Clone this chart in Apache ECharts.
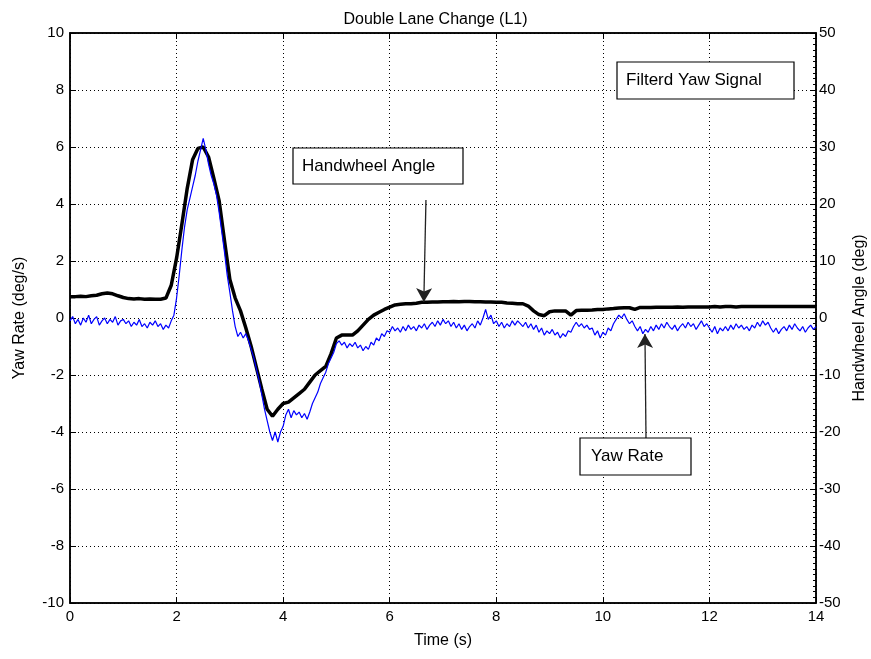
<!DOCTYPE html>
<html>
<head>
<meta charset="utf-8">
<script src="https://cdn.jsdelivr.net/npm/echarts@6/dist/echarts.min.js"></script>
<style>html,body{margin:0;padding:0;background:#fff;overflow:hidden}#c{width:871px;height:659px}</style>
</head>
<body>
<div id="c"></div>
<script>
// ---- Data ----
const chartTitle = 'Double Lane Change (L1)';
const xTicks = [0, 2, 4, 6, 8, 10, 12, 14];
const yawRateTicks = [-10, -8, -6, -4, -2, 0, 2, 4, 6, 8, 10];
const angleTicks = [-50, -40, -30, -20, -10, 0, 10, 20, 30, 40, 50];

// Handwheel angle (deg), sampled every 0.1 s from 0 to 14 s
const angleStart = 0, angleStep = 0.1;
const handwheelAngle = [
  3.75, 3.75, 3.8, 3.75, 3.9, 4.0, 4.25, 4.4, 4.25, 3.9,
  3.6, 3.4, 3.35, 3.4, 3.3, 3.35, 3.3, 3.3, 3.5, 5.75,
  10.5, 16.5, 22.75, 27.75, 29.75, 30.0, 28.25, 24.5, 20.5, 13.5,
  6.75, 3.5, 1.25, -1.75, -5.0, -8.75, -12.5, -16.0, -17.25, -16.0,
  -15.0, -14.75, -14.0, -13.25, -12.5, -11.25, -10.0, -9.25, -8.5, -6.25,
  -3.5, -3.0, -3.0, -3.0, -2.25, -1.25, -0.25, 0.5, 1.0, 1.5,
  1.9, 2.3, 2.4, 2.5, 2.5, 2.6, 2.75, 2.75, 2.8, 2.8,
  2.85, 2.85, 2.9, 2.85, 2.9, 2.9, 2.85, 2.85, 2.8, 2.8,
  2.75, 2.75, 2.65, 2.6, 2.5, 2.5, 2.1, 1.25, 0.6, 0.4,
  1.1, 1.25, 1.25, 1.25, 0.5, 1.3, 1.35, 1.35, 1.4, 1.5,
  1.5, 1.6, 1.65, 1.75, 1.8, 1.8, 1.5, 1.85, 1.85, 1.85,
  1.9, 1.9, 1.9, 1.9, 1.95, 1.9, 1.95, 1.95, 1.95, 1.95,
  1.95, 2.0, 1.95, 2.0, 2.0, 1.95, 2.0, 2.0, 2.0, 2.0,
  2.0, 2.0, 2.0, 2.0, 2.0, 2.0, 2.0, 2.0, 2.0, 2.0,
  2.0
];

// Yaw rate (deg/s), sampled every 0.05 s from 0 to 14 s
const yawStart = 0, yawStep = 0.05;
const yawRate = [
  -0.1, 0.05, -0.2, -0.05, -0.25, 0.0, -0.15, 0.1, -0.2, -0.05, 0.05, -0.25, -0.1, 0.0, -0.2, -0.05, -0.15, 0.05, -0.25, -0.1,
  -0.05, -0.2, -0.1, -0.3, -0.15, -0.25, -0.05, -0.3, -0.2, -0.35, -0.15, -0.25, -0.1, -0.3, -0.2, -0.4, -0.25, -0.35, -0.1, 0.1,
  0.7, 1.5, 2.4, 3.2, 3.8, 4.2, 4.6, 5.0, 5.5, 5.9, 6.3, 5.9, 5.4, 5.0, 4.7, 4.3, 3.7, 3.0, 2.3, 1.5,
  0.9, 0.25, -0.3, -0.65, -0.5, -0.7, -0.55, -0.8, -1.1, -1.4, -1.8, -2.2, -2.7, -3.2, -3.6, -4.0, -4.3, -4.0, -4.35, -4.0,
  -3.8, -3.4, -3.2, -3.5, -3.25, -3.4, -3.3, -3.5, -3.35, -3.55, -3.3, -3.0, -2.8, -2.6, -2.3, -2.1, -1.9, -1.6, -1.4, -1.2,
  -0.9, -0.8, -0.95, -0.85, -1.05, -0.9, -1.0, -0.85, -1.05, -0.95, -1.15, -1.0, -1.1, -0.85, -0.95, -0.7, -0.8, -0.55, -0.65, -0.45,
  -0.5, -0.3, -0.45, -0.35, -0.5, -0.3, -0.45, -0.25, -0.4, -0.3, -0.45, -0.25, -0.35, -0.2, -0.4, -0.25, -0.15, -0.3, -0.1, -0.25,
  -0.05, -0.2, -0.1, -0.3, -0.15, -0.35, -0.2, -0.4, -0.25, -0.45, -0.3, -0.2, -0.35, -0.1, -0.25, 0.0, 0.3, -0.05, 0.1, -0.2,
  -0.1, -0.3, -0.15, -0.35, -0.2, -0.3, -0.1, -0.25, -0.1, -0.2, -0.3, -0.15, -0.35, -0.2, -0.4, -0.25, -0.5, -0.35, -0.6, -0.45,
  -0.55, -0.4, -0.6, -0.5, -0.7, -0.55, -0.65, -0.45, -0.5, -0.3, -0.15, -0.3, -0.2, -0.35, -0.25, -0.4, -0.35, -0.6, -0.45, -0.7,
  -0.5, -0.6, -0.35, -0.45, -0.2, -0.05, 0.1, 0.0, 0.15, -0.05, -0.2, -0.1, -0.3, -0.45, -0.3, -0.55, -0.4, -0.5, -0.3, -0.45,
  -0.25, -0.4, -0.2, -0.35, -0.15, -0.3, -0.4, -0.25, -0.45, -0.3, -0.2, -0.35, -0.15, -0.3, -0.2, -0.4, -0.25, -0.1, -0.3, -0.2,
  -0.35, -0.5, -0.3, -0.55, -0.35, -0.45, -0.3, -0.45, -0.25, -0.4, -0.2, -0.35, -0.25, -0.4, -0.3, -0.45, -0.25, -0.35, -0.15, -0.3,
  -0.1, -0.25, -0.15, -0.35, -0.5, -0.35, -0.55, -0.4, -0.3, -0.45, -0.25, -0.4, -0.2, -0.35, -0.45, -0.3, -0.5, -0.35, -0.25, -0.4,
  -0.3
];

// Annotation labels and arrow endpoints [time (s), yaw-rate units]
const noteFiltered = 'Filterd Yaw Signal';
const noteHandwheel = 'Handwheel Angle';
const noteYaw = 'Yaw Rate';
const handwheelArrow = [[6.68, 4.14], [6.64, 0.56]];
const yawArrow = [[10.81, -4.28], [10.79, -0.56]];

// ---- Build ----
const angleSeries = handwheelAngle.map((v, i) => [+(angleStart + i * angleStep).toFixed(2), v]);
const yawSeries = yawRate.map((v, i) => [+(yawStart + i * yawStep).toFixed(2), v]);

const FONT = 'Liberation Sans, Arial, sans-serif';
const chart = echarts.init(document.getElementById('c'), null, {renderer: 'canvas'});

const dotted = {show: true, lineStyle: {color: '#000', width: 1, type: [1, 3]}};

function boxNote(x, y, w, h, text, tx) {
  return [
    {type: 'rect', shape: {x: x, y: y, width: w, height: h}, style: {fill: '#fff', stroke: '#000', lineWidth: 1.2}, z: 100},
    {type: 'text', x: tx, y: y + h / 2, style: {text: text, fill: '#000', font: '17px ' + FONT, textVerticalAlign: 'middle'}, z: 101}
  ];
}

chart.setOption({
  animation: false,
  backgroundColor: '#fff',
  title: {
    text: chartTitle, left: 'center', top: 7,
    textStyle: {fontFamily: FONT, fontSize: 16, fontWeight: 'normal', color: '#000'}
  },
  grid: {left: 70, right: 55, top: 33, bottom: 56, outerBoundsMode: 'none', containLabel: false,
         show: true, borderColor: '#000', borderWidth: 1.5, backgroundColor: 'transparent'},
  xAxis: [
    {
      type: 'value', min: xTicks[0], max: xTicks[xTicks.length - 1], interval: 2,
      name: 'Time (s)', nameLocation: 'middle', nameGap: 30,
      nameTextStyle: {fontFamily: FONT, fontSize: 16, color: '#000'},
      axisLine: {show: true, onZero: false, lineStyle: {color: '#000', width: 1.5}},
      axisTick: {show: true, inside: true, length: 6, lineStyle: {color: '#000'}},
      axisLabel: {fontFamily: FONT, fontSize: 15, color: '#000', margin: 6},
      splitLine: dotted
    },
    {
      type: 'value', position: 'top', min: xTicks[0], max: xTicks[xTicks.length - 1], interval: 2,
      axisLine: {show: true, onZero: false, lineStyle: {color: '#000', width: 1.5}},
      axisTick: {show: true, inside: true, length: 6, lineStyle: {color: '#000'}},
      axisLabel: {show: false}, splitLine: {show: false}
    }
  ],
  yAxis: [
    {
      type: 'value', min: yawRateTicks[0], max: yawRateTicks[yawRateTicks.length - 1], interval: 2,
      name: 'Yaw Rate (deg/s)', nameLocation: 'middle', nameGap: 42,
      nameTextStyle: {fontFamily: FONT, fontSize: 16, color: '#000'},
      axisLine: {show: true, onZero: false, lineStyle: {color: '#000', width: 1.5}},
      axisTick: {show: true, inside: true, length: 6, lineStyle: {color: '#000'}},
      axisLabel: {fontFamily: FONT, fontSize: 15, color: '#000', margin: 6},
      splitLine: dotted
    },
    {
      type: 'value', position: 'right', min: angleTicks[0], max: angleTicks[angleTicks.length - 1], interval: 10,
      name: 'Handwheel Angle (deg)', nameLocation: 'middle', nameGap: 35, nameRotate: 90,
      nameTextStyle: {fontFamily: FONT, fontSize: 16, color: '#000'},
      axisLine: {show: true, onZero: false, lineStyle: {color: '#000', width: 1.5}},
      axisTick: {show: true, inside: true, length: 6, lineStyle: {color: '#000'}},
      minorTick: {show: true, splitNumber: 10, length: 3, lineStyle: {color: '#000'}},
      axisLabel: {fontFamily: FONT, fontSize: 15, color: '#000', margin: 3},
      splitLine: {show: false}
    }
  ],
  series: [
    {
      name: 'Handwheel Angle', type: 'line', yAxisIndex: 1, data: angleSeries,
      showSymbol: false, symbol: 'none', lineStyle: {color: '#000', width: 3.5}, z: 3
    },
    {
      name: 'Yaw Rate', type: 'line', yAxisIndex: 0, data: yawSeries,
      showSymbol: false, symbol: 'none', lineStyle: {color: '#0000ff', width: 1.2}, z: 4,
      markLine: {
        silent: true, symbol: ['none', 'arrow'], symbolSize: [12, 14],
        label: {show: false},
        lineStyle: {color: '#222', width: 1.3, type: 'solid'},
        data: [
          [{coord: handwheelArrow[0]}, {coord: handwheelArrow[1]}],
          [{coord: yawArrow[0]}, {coord: yawArrow[1]}]
        ]
      }
    }
  ],
  graphic: [].concat(
    boxNote(617, 62, 177, 37, noteFiltered, 626),
    boxNote(293, 148, 170, 36, noteHandwheel, 302),
    boxNote(580, 438, 111, 37, noteYaw, 591)
  )
});
</script>
</body>
</html>
